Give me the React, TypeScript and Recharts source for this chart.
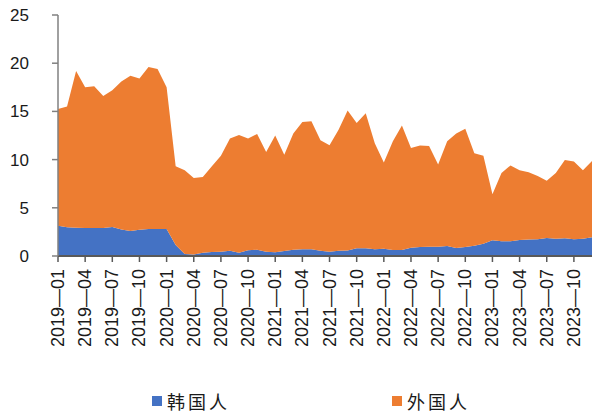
import { Area, AreaChart, XAxis, YAxis } from "recharts";

// monthly categories, 2019-01 .. 2023-12
const MONTHS = [
  "2019—01", "2019—02", "2019—03", "2019—04", "2019—05", "2019—06", "2019—07", "2019—08", "2019—09", "2019—10", "2019—11", "2019—12",
  "2020—01", "2020—02", "2020—03", "2020—04", "2020—05", "2020—06", "2020—07", "2020—08", "2020—09", "2020—10", "2020—11", "2020—12",
  "2021—01", "2021—02", "2021—03", "2021—04", "2021—05", "2021—06", "2021—07", "2021—08", "2021—09", "2021—10", "2021—11", "2021—12",
  "2022—01", "2022—02", "2022—03", "2022—04", "2022—05", "2022—06", "2022—07", "2022—08", "2022—09", "2022—10", "2022—11", "2022—12",
  "2023—01", "2023—02", "2023—03", "2023—04", "2023—05", "2023—06", "2023—07", "2023—08", "2023—09", "2023—10", "2023—11", "2023—12",
];

// 韩国人 (bottom layer)
const KOREAN = [
  3.15, 2.97, 2.93, 2.9, 2.9, 2.9, 3.0, 2.76, 2.6, 2.72, 2.8, 2.8,
  2.8, 1.14, 0.2, 0.15, 0.35, 0.42, 0.45, 0.55, 0.35, 0.6, 0.65, 0.45,
  0.38, 0.52, 0.65, 0.69, 0.69, 0.55, 0.45, 0.55, 0.58, 0.8, 0.8, 0.7,
  0.76, 0.62, 0.62, 0.86, 0.93, 0.97, 0.97, 1.04, 0.83, 0.93, 1.07, 1.28,
  1.63, 1.52, 1.52, 1.66, 1.7, 1.73, 1.87, 1.8, 1.83, 1.73, 1.8, 1.94,
];

// 外国人 (stacked on top)
const FOREIGN = [
  12.1, 12.53, 16.27, 14.6, 14.7, 13.7, 14.2, 15.34, 16.1, 15.68, 16.8, 16.6,
  14.7, 8.16, 8.7, 7.95, 7.85, 8.88, 9.95, 11.65, 12.2, 11.6, 12.0, 10.35,
  12.12, 9.98, 12.05, 13.21, 13.28, 11.45, 11.05, 12.55, 14.52, 13.0, 14.0, 11.0,
  8.94, 11.28, 12.93, 10.34, 10.52, 10.43, 8.53, 10.86, 11.87, 12.27, 9.58, 9.12,
  4.77, 7.08, 7.88, 7.24, 7.0, 6.57, 5.93, 6.8, 8.13, 8.07, 7.1, 7.91,
];

const Y_TICKS = [0, 5, 10, 15, 20, 25];

const BLUE = "#4472C4";
const ORANGE = "#ED7D31";
const AXIS = "#595959";

const data = MONTHS.map((m, i) => ({
  month: m,
  韩国人: KOREAN[i],
  外国人: FOREIGN[i],
}));

function MonthTick({ x, y, payload }: any) {
  return (
    <text
      x={x}
      y={y}
      transform={`rotate(-90, ${x}, ${y})`}
      textAnchor="end"
      dominantBaseline="central"
      fontFamily="'Liberation Sans', Arial, sans-serif"
      fontSize={18}
      fill="#1a1a1a"
    >
      {payload.value}
    </text>
  );
}

function LegendItem({ color, label, left }: { color: string; label: string; left: number }) {
  return (
    <div style={{ position: "absolute", left, top: 390, display: "flex", alignItems: "center" }}>
      <span style={{ width: 10, height: 10, background: color, display: "inline-block", marginRight: 5 }} />
      <span
        style={{
          fontFamily: "'Noto Sans CJK SC', sans-serif",
          fontSize: 18,
          letterSpacing: 3,
          color: "#1a1a1a",
          lineHeight: "22px",
        }}
      >
        {label}
      </span>
    </div>
  );
}

export default function App() {
  return (
    <div style={{ position: "relative", width: 592, height: 414, background: "#fff" }}>
      <style>{`body{margin:0}`}</style>
      <AreaChart
        width={592}
        height={414}
        data={data}
        margin={{ top: 15, right: 0, left: 0, bottom: 58 }}
      >
        <XAxis
          dataKey="month"
          interval={2}
          height={100}
          tickSize={6}
          tickMargin={7}
          tick={<MonthTick />}
          axisLine={{ stroke: AXIS, strokeWidth: 2 }}
          tickLine={{ stroke: AXIS, strokeWidth: 1.5 }}
        />
        <YAxis
          width={58}
          domain={[0, 25]}
          ticks={Y_TICKS}
          tickSize={6}
          tickMargin={23}
          axisLine={{ stroke: "#808080", strokeWidth: 1.5 }}
          tickLine={{ stroke: "#808080", strokeWidth: 1.5 }}
          tick={{ fontSize: 17, fill: "#1a1a1a", fontFamily: "'Liberation Sans', Arial, sans-serif" }}
        />
        <Area
          type="linear"
          dataKey="韩国人"
          stackId="a"
          stroke="none"
          fill={BLUE}
          fillOpacity={1}
          isAnimationActive={false}
        />
        <Area
          type="linear"
          dataKey="外国人"
          stackId="a"
          stroke="none"
          fill={ORANGE}
          fillOpacity={1}
          isAnimationActive={false}
        />
      </AreaChart>
      <LegendItem color={BLUE} label="韩国人" left={152} />
      <LegendItem color={ORANGE} label="外国人" left={392} />
    </div>
  );
}
